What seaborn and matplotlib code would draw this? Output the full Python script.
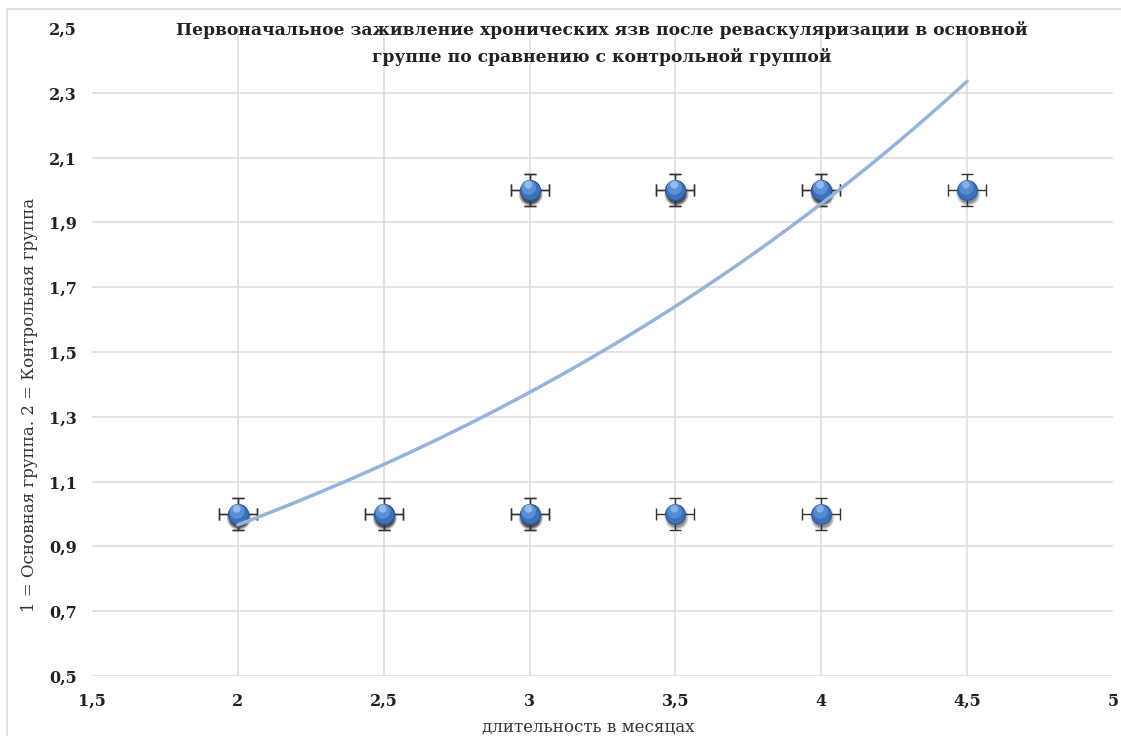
import numpy as np
import pandas as pd
import matplotlib
matplotlib.use("Agg")
import matplotlib.pyplot as plt
from matplotlib.patches import Rectangle
import seaborn as sns

# Observations: healing duration (months) and group (1 = main, 2 = control).
# Repeated rows are patients sharing the same value.
months = [2, 2, 2.5, 2.5, 3, 3, 3, 3, 3.5, 3.5, 3.5, 4, 4, 4, 4.5]
group = [1, 1, 1, 1, 1, 1, 2, 2, 1, 2, 2, 1, 2, 2, 2]

# Error bar half-widths
x_err = 0.065
y_err = 0.05

# Exponential trend y = a * exp(b * x)
trend_a = 0.477
trend_b = 0.353
trend_x_range = [2, 4.5]

x_ticks = [1.5, 2, 2.5, 3, 3.5, 4, 4.5, 5]
y_ticks = [0.5, 0.7, 0.9, 1.1, 1.3, 1.5, 1.7, 1.9, 2.1, 2.3, 2.5]

title = ("Первоначальное заживление хронических язв после реваскуляризации в основной\n"
         "группе по сравнению с контрольной группой")
x_label = "длительность в месяцах"
y_label = "1 = Основная группа. 2 = Контрольная группа"

sns.set_theme(style="white")
plt.rcParams["font.family"] = ["DejaVu Serif"]

df = pd.DataFrame({"months": months, "group": group})

fig = plt.figure(figsize=(11.21, 7.36), dpi=100)
fig.patch.set_facecolor("white")
# chart frame
fig.patches.append(Rectangle((7 / 1121, -0.05), 1.2, 1 - 9 / 736 + 0.05,
                             transform=fig.transFigure, fill=False,
                             edgecolor="#d9d9d9", linewidth=1.2, zorder=0))

ax = fig.add_axes([92 / 1121, 1 - 676 / 736, (1113 - 92) / 1121, (676 - 28) / 736])
ax.set_facecolor("white")

ax.set_xlim(1.5, 5)
ax.set_ylim(0.5, 2.5)
ax.set_xticks(x_ticks)
ax.set_yticks(y_ticks)
ax.set_xticklabels([f"{v:g}".replace(".", ",") for v in x_ticks],
                   fontweight="bold", fontsize=11.5, color="#222222")
ax.set_yticklabels([f"{v:.1f}".replace(".", ",") for v in y_ticks],
                   fontweight="bold", fontsize=11.5, color="#222222")
ax.tick_params(axis="both", length=0)
ax.tick_params(axis="y", pad=11)
ax.tick_params(axis="x", pad=12)
for s in ax.spines.values():
    s.set_visible(False)

ax.grid(True, color="#dedede", linewidth=1.2)
ax.set_axisbelow(True)
xg = ax.get_xgridlines()
xg[0].set_visible(False)
xg[-1].set_visible(False)
ax.get_ygridlines()[-1].set_visible(False)

# soft marker shadows (overlapping rows darken)
mx = np.array(months, dtype=float)
gy = np.array(group, dtype=float)
for size, alpha in [(300, 0.12), (240, 0.18), (190, 0.22)]:
    sns.scatterplot(x=mx + 0.004, y=gy - 0.012, ax=ax,
                    s=size, color="#000000", alpha=alpha, edgecolor="none",
                    legend=False, zorder=3)

# error bars
ax.errorbar(df["months"], df["group"], xerr=x_err, yerr=y_err, fmt="none",
            ecolor="#333333", elinewidth=1.0, capsize=4.5, capthick=1.0, zorder=4)

# spherical markers: base, darker rim, soft highlight
sns.scatterplot(data=df, x="months", y="group", ax=ax, s=200,
                color="#3a72bd", edgecolor="#2a5894", linewidth=0.8,
                legend=False, zorder=6)
sns.scatterplot(x=mx - 0.003, y=gy + 0.008, ax=ax,
                s=110, color="#5b91d6", edgecolor="none", alpha=0.8,
                legend=False, zorder=7)
sns.scatterplot(x=mx - 0.004, y=gy + 0.016, ax=ax,
                s=30, color="#9cc0ec", edgecolor="none", alpha=0.7,
                legend=False, zorder=8)

# exponential trend line
tx = np.linspace(trend_x_range[0], trend_x_range[1], 200)
ty = trend_a * np.exp(trend_b * tx)
sns.lineplot(x=tx, y=ty, ax=ax, color="#93b5dd", linewidth=2.5, zorder=9)

ax.set_xlabel("")
ax.set_ylabel("")
fig.text(588 / 1121, 1 - 727 / 736, x_label, ha="center", va="center",
         fontsize=12, color="#333333")
fig.text(30 / 1121, 1 - 405 / 736, y_label, ha="center", va="center",
         rotation=90, fontsize=12, color="#333333")
fig.text(602 / 1121, 1 - 43.5 / 736, title, ha="center", va="center",
         fontsize=12.3, fontweight="bold", color="#222222", linespacing=1.7)

fig.savefig("out.png", dpi=100, facecolor="white")
